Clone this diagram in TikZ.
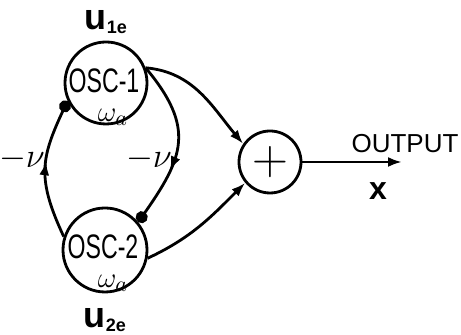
\documentclass[tikz,border=0pt]{standalone}
\usepackage{fontspec}
\setmainfont{Liberation Sans}
\usepackage{graphicx}
\usetikzlibrary{arrows.meta,positioning,decorations.markings}

\begin{document}
\begin{tikzpicture}[x=0.5pt,y=0.5pt,>={Latex[length=7pt,width=5pt]},line width=1.4pt,
  every node/.style={align=center,inner sep=0pt},
  osc/.style={draw,circle,minimum size=41pt},
  oscname/.style={font=\fontsize{17}{17}\selectfont},
  omega/.style={font=\fontsize{15}{15}\selectfont},
  gain/.style={font=\fontsize{17}{17}\selectfont},
  midtip/.style={postaction={decorate,decoration={markings,mark=at position #1 with {\arrow{>}}}}},
  dot/.style={-{Circle[length=6pt]}}]
  \useasboundingbox (0,0) rectangle (461,335);
  % oscillators and summer
  \node[osc] (osc1) at (106,252) {};
  \node[osc,minimum size=42pt] (osc2) at (105,85) {};
  \node[draw,circle,minimum size=31pt,font=\fontsize{25}{25}\selectfont] (sum) at (270,173) {$+$};
  \node[oscname] (osc1t) at (104,254) {\scalebox{0.68}[1]{OSC-1}};
  \node[omega] (w1) at (113,218) {$\omega_a$};
  \node[oscname] (osc2t) at (103,88) {\scalebox{0.68}[1]{OSC-2}};
  \node[omega] (w2) at (113,52) {$\omega_a$};
  \node[above=3pt of osc1,font=\fontsize{18}{18}\selectfont\bfseries] (u1) {u\raisebox{-2pt}{\fontsize{9}{9}\selectfont 1e}};
  \node[below=7pt of osc2,font=\fontsize{18}{18}\selectfont\bfseries] (u2) {u\raisebox{-2pt}{\fontsize{9}{9}\selectfont 2e}};
  % feedback
  \draw[dot,midtip=0.55] (osc2.162) to[out=115,in=245,looseness=1.2] (osc1.205);
  \draw[dot,midtip=0.65] (osc1.21) to[out=-50,in=55,looseness=1.3] (osc2.40);
  \node[gain] (nu1) at (22,176) {$-\nu$};
  \node[gain] (nu2) at (149,176) {$-\nu$};
  % to summer and output
  \draw[->] (osc1.21) to[out=-5,in=130] (sum.146);
  \draw[->] (osc2.-11) to[out=25,in=225] (sum.220);
  \coordinate (outend) at (402,173);
  \draw[->] (sum) -- (outend);
  \node[font=\fontsize{13}{13}\selectfont] (outlbl) at (405,191) {OUTPUT};
  \node[font=\fontsize{16}{16}\selectfont\bfseries] (xout) at (378,144) {x};
\end{tikzpicture}
\end{document}
